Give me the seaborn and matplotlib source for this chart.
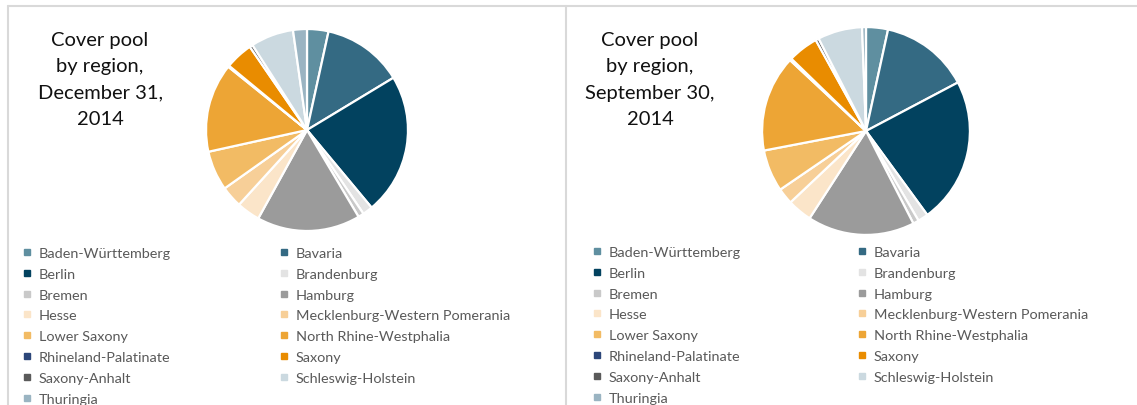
import numpy as np
import pandas as pd
import matplotlib
matplotlib.use("Agg")
import matplotlib.pyplot as plt
import seaborn as sns
from matplotlib.lines import Line2D

sns.set_theme(style="white")
plt.rcParams['font.family'] = ['Lato', 'DejaVu Sans']

# data
regions = ["Baden-Württemberg", "Bavaria", "Berlin", "Brandenburg", "Bremen",
           "Hamburg", "Hesse", "Mecklenburg-Western Pomerania", "Lower Saxony",
           "North Rhine-Westphalia", "Rhineland-Palatinate", "Saxony",
           "Saxony-Anhalt", "Schleswig-Holstein", "Thuringia"]
share_dec = [3.4, 12.8, 22.4, 1.6, 0.9, 16.4, 3.7, 3.4, 6.3, 14.1, 0.2, 4.4, 0.5, 6.8, 2.2]
share_sep = [3.4, 13.8, 22.6, 1.6, 0.9, 16.6, 3.8, 2.5, 6.5, 14.9, 0.3, 4.7, 0.5, 6.9, 0.6]
colors = ["#5f8fa0", "#346a83", "#02425f", "#e3e3e3", "#c9c9c9",
          "#9b9b9b", "#fbe5c9", "#f7cf98", "#f2bb64", "#eda535",
          "#2c4679", "#e98c00", "#5a5a5a", "#cbd9e0", "#9ab4c2"]
titles = ["Cover pool\nby region,\nDecember 31,\n2014",
          "Cover pool\nby region,\nSeptember 30,\n2014"]

df = pd.DataFrame({"region": regions, "dec": share_dec, "sep": share_sep, "color": colors})

W, H = 1137, 406
fig = plt.figure(figsize=(W / 100, H / 100), dpi=100)
fig.patch.set_facecolor("white")


def px_axes(cx, cy, r):
    return fig.add_axes([(cx - r) / W, (H - cy - r) / H, 2 * r / W, 2 * r / H])


panels = [
    # pie centre x, y, radius, title x, legend col x's, legend top y
    dict(col="dec", cx=307, cy=131, r=103, tx=100, lx=(23, 280), ly=248),
    dict(col="sep", cx=866, cy=132, r=106, tx=650, lx=(593, 858), ly=247),
]

for p, title in zip(panels, titles):
    ax = px_axes(p["cx"], p["cy"], p["r"])
    ax.pie(df[p["col"]], colors=df["color"], startangle=90, counterclock=False,
           wedgeprops=dict(edgecolor="white", linewidth=1.6))
    ax.set_xlim(-1.02, 1.02)
    ax.set_ylim(-1.02, 1.02)
    ax.axis("off")

    fig.text(p["tx"] / W, 1 - 80 / H, title, ha="center", va="center",
             fontsize=14.5, linespacing=1.66, color="#111111")

    handles = [Line2D([], [], marker="s", linestyle="none", markersize=4.6,
                      markerfacecolor=c, markeredgecolor=c) for c in df["color"]]
    for k, x0 in enumerate(p["lx"]):
        idx = list(range(k, len(regions), 2))
        leg = fig.legend([handles[i] for i in idx], [regions[i] for i in idx],
                         loc="upper left", bbox_to_anchor=(x0 / W, 1 - p["ly"] / H),
                         frameon=False, fontsize=10.4, handlelength=0.6,
                         handletextpad=0.5, labelspacing=0.6, borderpad=0,
                         borderaxespad=0)
        for t in leg.get_texts():
            t.set_color("#595959")

# panel borders
line_kw = dict(color="#d9d9d9", linewidth=1.5)
fig.add_artist(Line2D([8 / W, 8 / W], [0, 1 - 7 / H], transform=fig.transFigure, **line_kw))
fig.add_artist(Line2D([8 / W, 1], [1 - 7 / H, 1 - 7 / H], transform=fig.transFigure, **line_kw))
fig.add_artist(Line2D([566 / W, 566 / W], [0, 1 - 7 / H], transform=fig.transFigure, **line_kw))

fig.savefig("out.png", dpi=100)
